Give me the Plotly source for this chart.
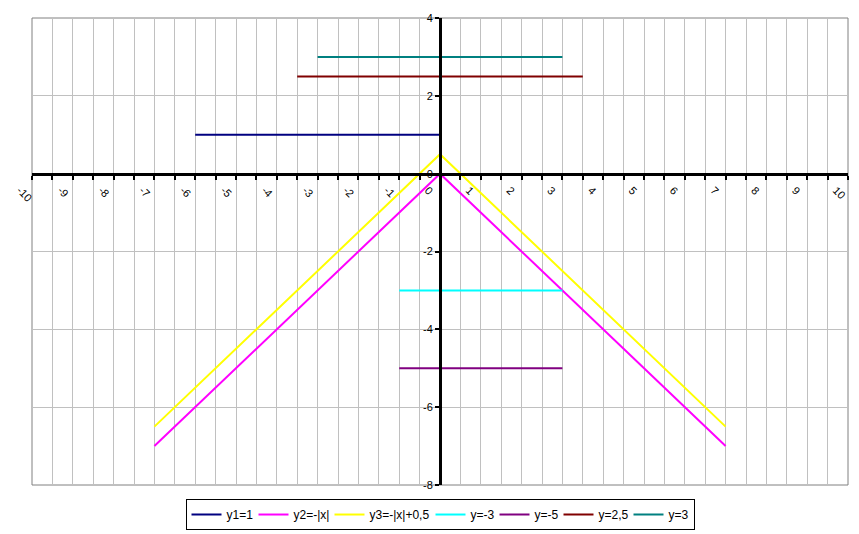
import plotly.graph_objects as go

# ---- data ----
x_v = [-7, 0, 7]
y2_vals = [-7, 0, -7]          # y2=-|x|
y3_vals = [-6.5, 0.5, -6.5]    # y3=-|x|+0,5
y1_x = [-6, 0]
y1_vals = [1, 1]
ym3_x = [-1, 3]
ym3_vals = [-3, -3]
ym5_x = [-1, 3]
ym5_vals = [-5, -5]
y25_x = [-3.5, 3.5]
y25_vals = [2.5, 2.5]
y3c_x = [-3, 3]
y3c_vals = [3, 3]

x_tickvals = [-10, -9, -8, -7, -6, -5, -4, -3, -2, -1, 0, 1, 2, 3, 4, 5, 6, 7, 8, 9, 10]
x_ticktext = ["-10", "-9", "-8", "-7", "-6", "-5", "-4", "-3", "-2", "-1", "0",
              "1", "2", "3", "4", "5", "6", "7", "8", "9", "10"]
y_tickvals = [-8, -6, -4, -2, 0, 2, 4]
y_ticktext = ["-8", "-6", "-4", "-2", "0", "2", "4"]

names = ["y1=1", "y2=-|x|", "y3=-|x|+0,5", "y=-3", "y=-5", "y=2,5", "y=3"]
xs_list = [y1_x, x_v, x_v, ym3_x, ym5_x, y25_x, y3c_x]
ys_list = [y1_vals, y2_vals, y3_vals, ym3_vals, ym5_vals, y25_vals, y3c_vals]

# styles
colors = ["#000080", "#FF00FF", "#FFFF00", "#00FFFF", "#800080", "#800000", "#008080"]
legend_widths = [22, 31, 56, 19, 19, 25, 20]

FONT = "Liberation Sans, Arial, sans-serif"

fig = go.Figure()
for name, xs, ys, col, lw in zip(names, xs_list, ys_list, colors, legend_widths):
    fig.add_trace(go.Scatter(x=xs, y=ys, mode="lines", name=name, legendwidth=lw,
                             line=dict(color=col, width=2)))

grid = "#C0C0C0"
fig.update_layout(
    width=859, height=534,
    margin=dict(l=32, r=11, t=18, b=49, autoexpand=False),
    paper_bgcolor="white", plot_bgcolor="white",
    font=dict(family=FONT, size=11, color="black"),
    showlegend=True,
    legend=dict(orientation="h", x=0.5, xanchor="center", y=-0.0964, yanchor="bottom",
                bordercolor="black", borderwidth=1, font=dict(size=12, family=FONT),
                itemwidth=30, tracegroupgap=0, bgcolor="white"),
    xaxis=dict(range=[-10, 10], tickmode="array", tickvals=x_tickvals, ticktext=x_ticktext,
               showgrid=True, gridcolor=grid, automargin=False,
               gridwidth=1, zeroline=False, showline=True, linecolor="black", linewidth=3,
               anchor="free", position=2/3, ticks="outside", ticklen=4, tickwidth=2,
               tickcolor="black", tickangle=45, domain=[0, 1], ticklabelshift=-12,
               minor=dict(dtick=0.5, tick0=0, showgrid=True, gridcolor=grid, ticks="outside",
                          ticklen=4, tickwidth=2, tickcolor="black"),
               tickfont=dict(size=11, family=FONT)),
    yaxis=dict(range=[-8, 4], tickmode="array", tickvals=y_tickvals, ticktext=y_ticktext,
               showgrid=True, gridcolor=grid, automargin=False,
               zeroline=False, showline=True, linecolor="black", linewidth=3,
               anchor="free", position=0.5, ticks="outside", ticklen=4, tickwidth=2,
               tickcolor="black", domain=[0, 1], tickfont=dict(size=11, family=FONT)),
    yaxis2=dict(range=[-8, 4], tickmode="array", tickvals=y_tickvals, overlaying="y",
                anchor="free", automargin=False,
                position=0.5, showgrid=False, zeroline=False, showticklabels=False,
                ticks="inside", ticklen=4, tickwidth=2, tickcolor="black", side="left"),
    shapes=[dict(type="rect", xref="paper", yref="paper", x0=0, x1=1, y0=0, y1=1,
                 line=dict(color="#808080", width=1), layer="below")],
)
fig.write_html("out.html", config={"displayModeBar": False},
               post_script="document.body.style.margin='0';document.body.style.overflow='hidden';")
